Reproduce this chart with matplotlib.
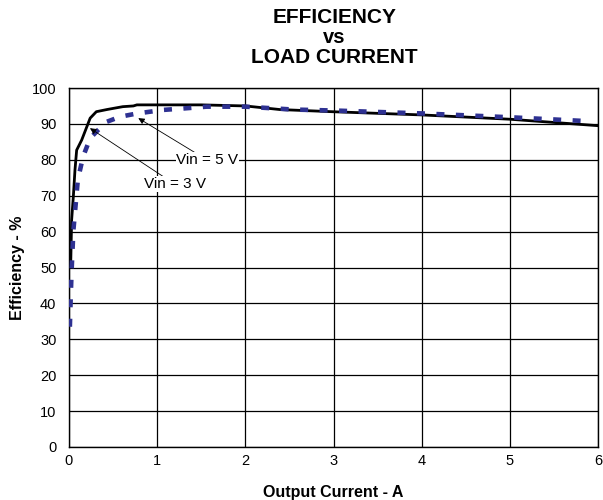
import numpy as np
import matplotlib
matplotlib.use('Agg')
import matplotlib.pyplot as plt

plt.rcParams['font.family'] = ['Liberation Sans', 'DejaVu Sans']

# Vin = 3 V (solid black)
i_3v = [0.019, 0.03, 0.05, 0.068, 0.087, 0.144, 0.24, 0.31, 0.43, 0.61, 0.73, 0.77,
        1.0, 1.5, 2.0, 2.39, 2.98, 4.0, 5.0, 6.0]
eff_3v = [50.2, 63.2, 70.0, 77.2, 82.7, 85.5, 91.6, 93.4, 94.0, 94.8, 95.0, 95.3,
          95.3, 95.3, 95.0, 94.0, 93.4, 92.5, 91.3, 89.5]

# Vin = 5 V (dashed blue)
i_5v = [0.01, 0.02, 0.03, 0.05, 0.087, 0.1, 0.16, 0.24, 0.33, 0.43, 0.58, 0.77, 0.92,
        1.07, 1.3, 1.56, 2.0, 2.54, 3.04, 4.02, 5.04, 5.85]
eff_5v = [33.5, 42.0, 49.3, 60.4, 70.7, 74.4, 80.9, 86.0, 88.3, 90.6, 92.0, 92.9, 93.4,
          93.9, 94.3, 94.8, 94.8, 94.0, 93.7, 92.9, 91.8, 90.8]

fig = plt.figure(figsize=(6.03, 5), dpi=100)
ax = fig.add_axes([0.1144, 0.106, 0.8776, 0.718])

ax.plot(i_3v, eff_3v, color='black', lw=2.0, zorder=3)
ax.plot(i_5v, eff_5v, color='#2E3192', lw=3.3, dashes=(1.75, 2.5), zorder=3)

ax.set_xlim(0, 6)
ax.set_ylim(0, 100)
ax.set_xticks(range(0, 7))
ax.set_yticks(range(0, 101, 10))
ax.grid(True, color='black', lw=0.9)
ax.set_axisbelow(True)
for s in ax.spines.values():
    s.set_color('black')
    s.set_linewidth(1.0)
ax.tick_params(length=0, labelsize=10.5)
ax.tick_params(axis='y', pad=9)
ax.tick_params(axis='x', pad=5)

ax.set_xlabel('Output Current - A', fontsize=11.5, fontweight='bold', labelpad=12)
ax.set_ylabel('Efficiency - %', fontsize=11.5, fontweight='bold', labelpad=5)

bbox = dict(facecolor='white', edgecolor='none', pad=0.5)
ax.annotate('Vin = 5 V', xy=(0.786, 91.6), xytext=(1.57, 79.9), fontsize=11,
            ha='center', va='center', bbox=bbox,
            arrowprops=dict(arrowstyle='-|>', color='black', lw=0.6,
                            mutation_scale=9, shrinkA=0, shrinkB=0))
ax.annotate('Vin = 3 V', xy=(0.238, 88.8), xytext=(1.2, 73.2), fontsize=11,
            ha='center', va='center', bbox=bbox,
            arrowprops=dict(arrowstyle='-|>', color='black', lw=0.6,
                            mutation_scale=9, shrinkA=0, shrinkB=0))

fig.text(0.5547, 0.9546, 'EFFICIENCY', ha='center', va='baseline', fontsize=15, fontweight='bold')
fig.text(0.5547, 0.914, 'vs', ha='center', va='baseline', fontsize=14.5, fontweight='bold')
fig.text(0.5547, 0.8734, 'LOAD CURRENT', ha='center', va='baseline', fontsize=15, fontweight='bold')

fig.savefig('out.png', dpi=100)
